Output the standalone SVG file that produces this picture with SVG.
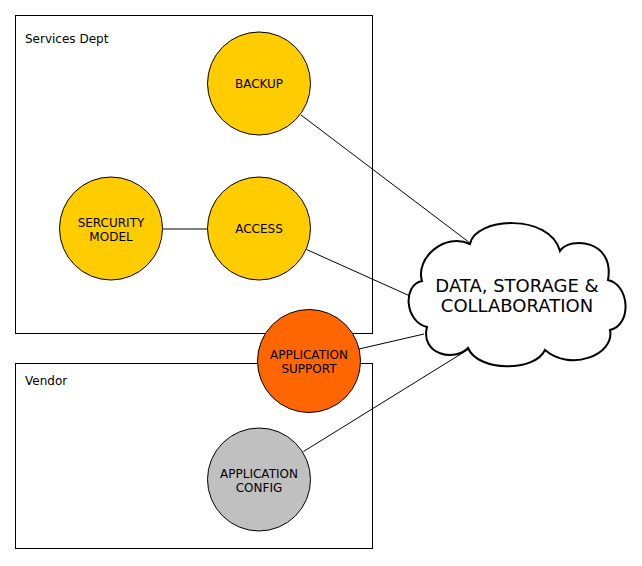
<svg xmlns="http://www.w3.org/2000/svg" width="642" height="566" viewBox="0 0 642 566">
<style>
.box{fill:none;stroke:#000;stroke-width:1}
.lbl{font-family:"DejaVu Sans",sans-serif;font-size:12px;fill:#000}
.node{stroke:#000;stroke-width:1}
.ntxt{font-family:"DejaVu Sans",sans-serif;font-size:12px;fill:#000;text-anchor:middle}
.edge{stroke:#000;stroke-width:1;fill:none}
.cloud{fill:#fff;stroke:#000;stroke-width:2}
.ctxt{font-family:"DejaVu Sans",sans-serif;font-size:18px;fill:#000;text-anchor:middle}
</style>
<rect width="642" height="566" fill="#fff"/>
<g id="services-dept">
<rect class="box" x="15.5" y="15.5" width="357" height="318"/>
<text class="lbl" x="25" y="43">Services Dept</text>
</g>
<g id="vendor">
<rect class="box" x="15.5" y="363.5" width="357" height="185"/>
<text class="lbl" x="25" y="385">Vendor</text>
</g>
<g id="connectors">
<line class="edge" x1="301" y1="115" x2="470" y2="243"/>
<line class="edge" x1="306.5" y1="249.5" x2="410" y2="296"/>
<line class="edge" x1="359" y1="349" x2="424" y2="334"/>
<line class="edge" x1="303.5" y1="451.5" x2="473" y2="346.5"/>
<line class="edge" x1="162.5" y1="229" x2="207.5" y2="229"/>
</g>
<g id="backup">
<circle class="node" cx="259" cy="83.5" r="51.5" fill="#FFCC00"/>
<text class="ntxt" x="259" y="88">BACKUP</text>
</g>
<g id="access">
<circle class="node" cx="259" cy="228.5" r="51.5" fill="#FFCC00"/>
<text class="ntxt" x="259" y="233">ACCESS</text>
</g>
<g id="security-model">
<circle class="node" cx="111" cy="228.5" r="51.5" fill="#FFCC00"/>
<text class="ntxt" x="111" y="226.5">SERCURITY</text>
<text class="ntxt" x="111" y="240.5">MODEL</text>
</g>
<g id="application-support">
<circle class="node" cx="309" cy="361" r="51.5" fill="#FF6600"/>
<text class="ntxt" x="309" y="359">APPLICATION</text>
<text class="ntxt" x="309" y="373">SUPPORT</text>
</g>
<g id="application-config">
<circle class="node" cx="259" cy="479.5" r="51.5" fill="#C0C0C0"/>
<text class="ntxt" x="259" y="477.5">APPLICATION</text>
<text class="ntxt" x="259" y="491.5">CONFIG</text>
</g>
<g id="data-storage-collaboration">
<path class="cloud" d="M470,244 C475,217 550,213 560,251 C570,236 615,240 608,280 C630,285 632,325 610,330 C615,355 570,372 545,350 C535,372 478,372 468,348 C455,362 420,355 427,327 C405,322 402,285 422,281 C415,258 445,232 470,244 Z"/>
<text class="ctxt" x="517" y="291.5">DATA, STORAGE &amp;</text>
<text class="ctxt" x="517" y="311.5">COLLABORATION</text>
</g>
</svg>
